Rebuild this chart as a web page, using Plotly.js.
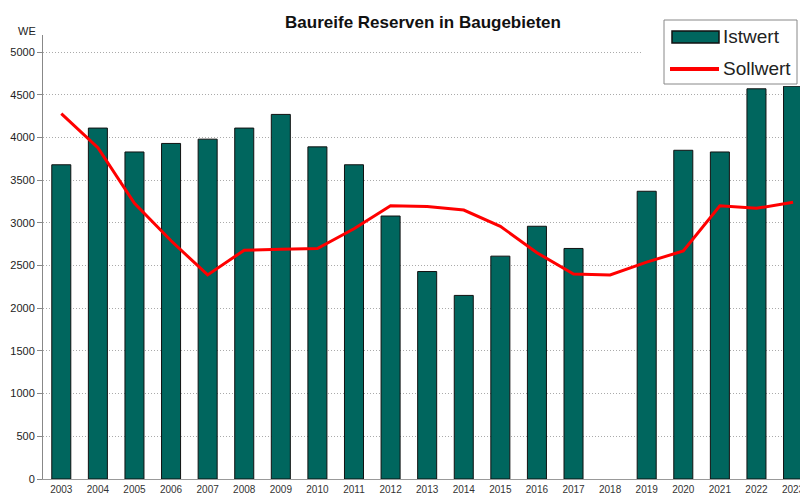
<!DOCTYPE html>
<html><head><meta charset="utf-8">
<script src="https://cdn.plot.ly/plotly-3.0.1.min.js"></script>
<style>html,body{margin:0;padding:0;background:#fff;}#chart{width:800px;height:495px;}</style>
</head><body><div id="chart"></div>
<script>
var years = ["2003","2004","2005","2006","2007","2008","2009","2010","2011","2012","2013","2014","2015","2016","2017","2018","2019","2020","2021","2022","2023"];
var istwert = [3680,4110,3830,3930,3980,4110,4270,3890,3680,3080,2430,2150,2610,2960,2700,null,3370,3850,3830,4570,4600];
var sollwert = [4280,3880,3230,2790,2390,2680,2690,2700,2930,3200,3190,3150,2960,2650,2400,2390,2540,2670,3200,3170,3240];
var seriesNames = ["Istwert","Sollwert"];
var titleText = "Baureife Reserven in Baugebieten";
var yUnit = "WE";

var W = 800, H = 495, ML = 43, MR = 0, MT = 35, MB = 16;
function px(x){ return (x - ML) / (W - ML - MR); }
function py(y){ return (H - MB - y) / (H - MT - MB); }

var font = "Liberation Sans, Arial, sans-serif";
var barColor = "#00665e";

var traces = [
  {type:"bar", x:years, y:istwert, name:seriesNames[0], width:0.52,
   marker:{color:barColor, line:{color:"#111", width:1}}, showlegend:false},
  {type:"scatter", mode:"lines", x:years, y:sollwert, name:seriesNames[1],
   line:{color:"#ff0000", width:3}, showlegend:false}
];

var shapes = [
  {type:"rect", xref:"paper", yref:"paper", x0:px(643), x1:px(800), y0:py(86), y1:py(0), fillcolor:"#fff", line:{width:0}, layer:"above"},
  {type:"rect", xref:"paper", yref:"paper", x0:px(664), x1:px(797), y0:py(84), y1:py(20), fillcolor:"#fff", line:{color:"#888", width:1}, layer:"above"},
  {type:"rect", xref:"paper", yref:"paper", x0:px(672), x1:px(719), y0:py(43), y1:py(31), fillcolor:barColor, line:{color:"#111", width:1.5}, layer:"above"},
  {type:"line", xref:"paper", yref:"paper", x0:px(670), x1:px(719), y0:py(69), y1:py(69), line:{color:"#ff0000", width:4}, layer:"above"}
];

var annotations = [
  {xref:"paper", yref:"paper", x:px(721), y:py(37), text:seriesNames[0], showarrow:false, xanchor:"left", yanchor:"middle", font:{family:font, size:19, color:"#222"}},
  {xref:"paper", yref:"paper", x:px(721), y:py(68), text:seriesNames[1], showarrow:false, xanchor:"left", yanchor:"middle", font:{family:font, size:19, color:"#222"}},
  {xref:"paper", yref:"paper", x:px(27), y:py(31), text:yUnit, showarrow:false, xanchor:"center", yanchor:"middle", font:{family:font, size:11, color:"#222"}}
];

var layout = {
  width:W, height:H,
  margin:{l:ML, r:MR, t:MT, b:MB, pad:0},
  paper_bgcolor:"#fff", plot_bgcolor:"#fff",
  title:{text:"<b>"+titleText+"</b>", x:423/W, xref:"container", xanchor:"center", y:1-22/H, yref:"container", yanchor:"middle", font:{family:font, size:17, color:"#111"}},
  xaxis:{type:"category", range:[-0.5, 20.19], showgrid:false, showline:true, linecolor:"#999", linewidth:1, ticks:"", ticklabelstandoff:1, tickfont:{family:font, size:10, color:"#333"}, fixedrange:true, zeroline:false},
  yaxis:{range:[0,5200], tickvals:[0,500,1000,1500,2000,2500,3000,3500,4000,4500,5000], showgrid:true, gridcolor:"#aaa", griddash:"1px,2px", gridwidth:1, showline:true, linecolor:"#888", linewidth:1, ticks:"outside", ticklen:5, tickcolor:"#888", tickfont:{family:font, size:11, color:"#222"}, zeroline:false, fixedrange:true},
  showlegend:false,
  shapes:shapes,
  annotations:annotations
};

Plotly.newPlot("chart", traces, layout, {displayModeBar:false, staticPlot:true});
</script></body></html>
